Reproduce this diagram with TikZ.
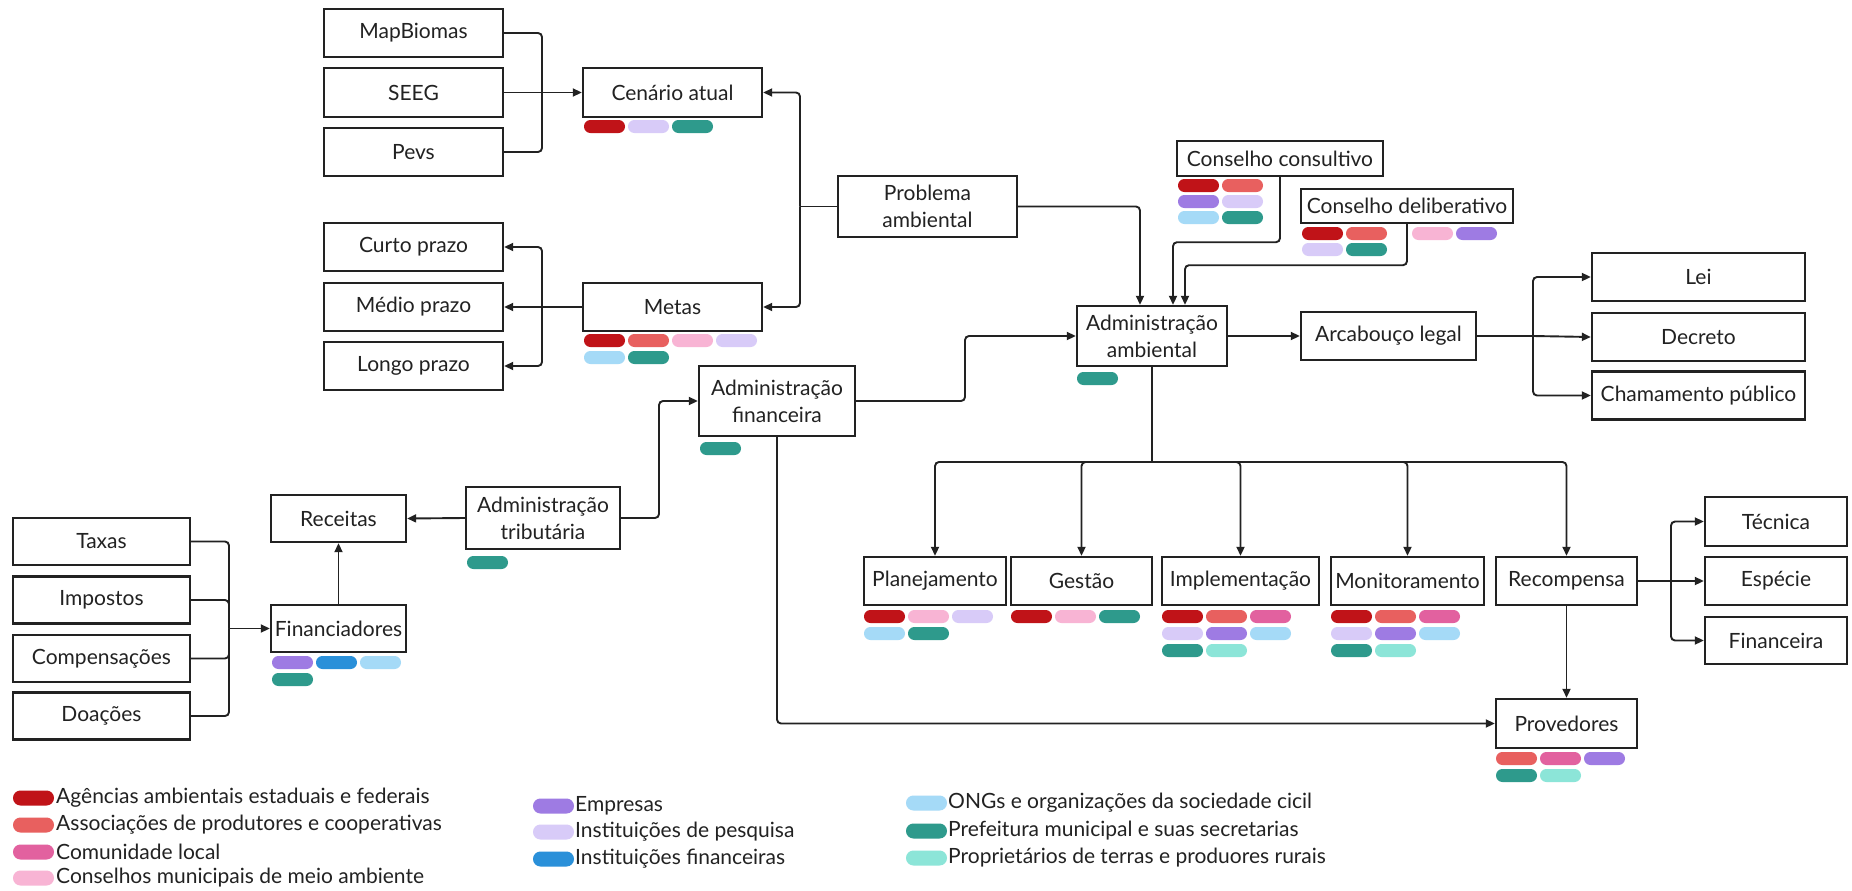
\documentclass[tikz,border=0pt]{standalone}
\usepackage{fontspec}
\setmainfont{Lato}
\usetikzlibrary{arrows.meta,calc}
\definecolor{cRed}{HTML}{C01318}
\definecolor{cSal}{HTML}{E8605F}
\definecolor{cMag}{HTML}{E2619F}
\definecolor{cLpk}{HTML}{F8B4D4}
\definecolor{cPur}{HTML}{9E7BE3}
\definecolor{cLav}{HTML}{D8CBF8}
\definecolor{cBlu}{HTML}{2A90D9}
\definecolor{cLbl}{HTML}{A5DAF7}
\definecolor{cTea}{HTML}{2E9A8C}
\definecolor{cMin}{HTML}{8CE5D8}
\definecolor{cInk}{HTML}{222222}
\newcommand{\pil}[3]{\fill[#3, rounded corners=6.4pt] (#1,#2) rectangle ++(41,13);}
\newcommand{\lpil}[3]{\fill[#3, rounded corners=7.4pt] (#1,#2-7.5) rectangle ++(41,15);}
\begin{document}
\begin{tikzpicture}[x=1pt,y=-1pt,
  box/.style={draw=cInk, line width=2.4pt, rectangle, inner sep=0pt, align=center,
    font=\fontsize{21}{27}\selectfont, text=cInk},
  sz/.style 2 args={minimum width=#1pt, minimum height=#2pt},
  conn/.style={draw=cInk, line width=1.9pt, rounded corners=4pt},
  arr/.style={conn, -{Triangle[length=9pt,width=8pt]}},
  legtext/.style={anchor=west, inner sep=0pt, font=\fontsize{21}{25}\selectfont, text=cInk}]
\useasboundingbox (0,0) rectangle (1852,891);
\fill[white] (0,0) rectangle (1852,891);

% top-left
\node[box, sz={179}{48}] (mapb) at (413.5,33) {MapBiomas};
\node[box, sz={179}{49}] (seeg) at (413.5,92.5) {SEEG};
\node[box, sz={179}{48}] (pevs) at (413.5,152) {Pevs};
\node[box, sz={179}{49}] (cen) at (672.5,92.5) {Cenário atual};
\node[box, sz={179}{48}] (curto) at (413.5,247) {Curto prazo};
\node[box, sz={179}{48}] (medio) at (413.5,307) {Médio prazo};
\node[box, sz={179}{48}] (longo) at (413.5,366) {Longo prazo};
\node[box, sz={179}{48}] (metas) at (672.5,307) {Metas};
\node[box, sz={179}{61}] (prob) at (927.5,206.5) {Problema\\ambiental};

% conselhos / admin ambiental
\node[box, sz={206}{35}] (ccons) at (1280,158.5) {Conselho consultivo};
\node[box, sz={212}{34}] (cdel) at (1407,206) {Conselho deliberativo};
\node[box, sz={150}{60}] (aamb) at (1152,336) {Administração\\ambiental};
\node[box, sz={175}{48}] (arc) at (1388.5,336) {Arcabouço legal};
\node[box, sz={213}{48}] (lei) at (1698.5,277) {Lei};
\node[box, sz={213}{48}] (dec) at (1698.5,337) {Decreto};
\node[box, sz={213}{48}] (cham) at (1698.5,395.5) {Chamamento público};

% finance
\node[box, sz={156}{70}] (afin) at (777,401) {Administração\\financeira};
\node[box, sz={154}{62}] (atrib) at (543,518) {Administração\\tributária};
\node[box, sz={135}{47}] (rec) at (338.5,518.5) {Receitas};
\node[box, sz={135}{47}] (finan) at (338.5,628.5) {Financiadores};
\node[box, sz={177}{47}] (taxas) at (101.5,541.5) {Taxas};
\node[box, sz={177}{47}] (imp) at (101.5,600) {Impostos};
\node[box, sz={177}{47}] (comp) at (101.5,658.5) {Compensações};
\node[box, sz={177}{47}] (doa) at (101.5,716) {Doações};

% bottom row
\node[box, sz={142}{48}] (plan) at (935,581) {Planejamento};
\node[box, sz={141}{48}] (gest) at (1081.5,581) {Gestão};
\node[box, sz={157}{48}] (impl) at (1240.5,581) {Implementação};
\node[box, sz={153}{48}] (mon) at (1407.5,581) {Monitoramento};
\node[box, sz={141}{48}] (recp) at (1566.5,581) {Recompensa};
\node[box, sz={142}{49}] (tec) at (1776,521.5) {Técnica};
\node[box, sz={142}{48}] (esp) at (1776,581) {Espécie};
\node[box, sz={142}{47}] (fin) at (1776,640.5) {Financeira};
\node[box, sz={141}{49}] (prov) at (1566.5,723.5) {Provedores};

% connectors
\coordinate (j1) at (542,92.5);
\draw[conn] (mapb.east) -| (j1);
\draw[conn] (pevs.east) -| (j1);
\draw[arr] (seeg.east) -- (cen.west);

\coordinate (jp) at (800,206.5);
\draw[conn] (prob.west) -- (jp);
\draw[arr] (jp) |- (cen.east);
\draw[arr] (jp) |- (metas.east);

\coordinate (jm) at (542,307);
\draw[conn] (metas.west) -- (jm);
\draw[arr] (jm) |- (curto.east);
\draw[arr] (jm) -- (medio.east);
\draw[arr] (jm) |- (longo.east);

\draw[arr] (prob.east) -| ($(aamb.north)+(-12,0)$);
\draw[arr] (ccons.south) -- ++(0,65) -| ($(aamb.north)+(21,0)$);
\draw[arr] (cdel.south) -- ++(0,41) -| ($(aamb.north)+(33,0)$);

\draw[arr] (aamb.east) -- (arc.west);
\coordinate (ja) at (1533,336);
\draw[conn] (arc.east) -- (ja);
\draw[arr] (ja) |- (lei.west);
\draw[arr] (ja) -- (dec.west);
\draw[arr] (ja) |- (cham.west);

\coordinate (jd) at (1152,462);
\draw[conn] (aamb.south) -- (jd);
\draw[arr] (jd) -| (plan.north);
\draw[arr] (jd) -| (gest.north);
\draw[arr] (jd) -| (impl.north);
\draw[arr] (jd) -| (mon.north);
\draw[arr] (jd) -| (recp.north);

\coordinate (jr) at (1671,581);
\draw[conn] (recp.east) -- (jr);
\draw[arr] (jr) |- (tec.west);
\draw[arr] (jr) -- (esp.west);
\draw[arr] (jr) |- (fin.west);
\draw[arr] (recp.south) -- (prov.north);

\draw[arr] (afin.south) |- (prov.west);
\coordinate (jaf) at (965,401);
\draw[arr] (afin.east) -- (jaf) |- (aamb.west);
\coordinate (jat) at (659,518);
\draw[arr] (atrib.east) -- (jat) |- (afin.west);
\draw[arr] (atrib.west) -- (rec.east);
\draw[arr] (finan.north) -- (rec.south);

\coordinate (jf) at (229,628.5);
\draw[conn] (taxas.east) -| (jf);
\draw[conn] (imp.east) -| (jf);
\draw[conn] (comp.east) -| (jf);
\draw[conn] (doa.east) -| (jf);
\draw[arr] (jf) -- (finan.west);

% pills
\pil{584}{120}{cRed}\pil{628}{120}{cLav}\pil{672}{120}{cTea}
\pil{584}{334}{cRed}\pil{628}{334}{cSal}\pil{672}{334}{cLpk}\pil{716}{334}{cLav}
\pil{584}{351}{cLbl}\pil{628}{351}{cTea}
\pil{1178}{179}{cRed}\pil{1222}{179}{cSal}
\pil{1178}{195}{cPur}\pil{1222}{195}{cLav}
\pil{1178}{211}{cLbl}\pil{1222}{211}{cTea}
\pil{1302}{227}{cRed}\pil{1346}{227}{cSal}\pil{1412}{227}{cLpk}\pil{1456}{227}{cPur}
\pil{1302}{243}{cLav}\pil{1346}{243}{cTea}
\pil{1077}{372}{cTea}
\pil{700}{442}{cTea}
\pil{467}{556}{cTea}
\pil{272}{656}{cPur}\pil{316}{656}{cBlu}\pil{360}{656}{cLbl}
\pil{272}{673}{cTea}
\pil{864}{610}{cRed}\pil{908}{610}{cLpk}\pil{952}{610}{cLav}
\pil{864}{627}{cLbl}\pil{908}{627}{cTea}
\pil{1011}{610}{cRed}\pil{1055}{610}{cLpk}\pil{1099}{610}{cTea}
\pil{1162}{610}{cRed}\pil{1206}{610}{cSal}\pil{1250}{610}{cMag}
\pil{1162}{627}{cLav}\pil{1206}{627}{cPur}\pil{1250}{627}{cLbl}
\pil{1162}{644}{cTea}\pil{1206}{644}{cMin}
\pil{1331}{610}{cRed}\pil{1375}{610}{cSal}\pil{1419}{610}{cMag}
\pil{1331}{627}{cLav}\pil{1375}{627}{cPur}\pil{1419}{627}{cLbl}
\pil{1331}{644}{cTea}\pil{1375}{644}{cMin}
\pil{1496}{752}{cSal}\pil{1540}{752}{cMag}\pil{1584}{752}{cPur}
\pil{1496}{769}{cTea}\pil{1540}{769}{cMin}

% legend
\lpil{13}{798}{cRed}\node[legtext] (lg1) at (56,798) {Agências ambientais estaduais e federais};
\lpil{13}{825}{cSal}\node[legtext] (lg2) at (56,825) {Associações de produtores e cooperativas};
\lpil{13}{852}{cMag}\node[legtext] (lg3) at (56,852) {Comunidade local};
\lpil{13}{878}{cLpk}\node[legtext] (lg4) at (56,878) {Conselhos municipais de meio ambiente};
\lpil{533}{806}{cPur}\node[legtext] (lg5) at (575,806) {Empresas};
\lpil{533}{832}{cLav}\node[legtext] (lg6) at (575,832) {Instituições de pesquisa};
\lpil{533}{859}{cBlu}\node[legtext] (lg7) at (575,859) {Instituições financeiras};
\lpil{906}{803}{cLbl}\node[legtext] (lg8) at (948,803) {ONGs e organizações da sociedade cicil};
\lpil{906}{831}{cTea}\node[legtext] (lg9) at (948,831) {Prefeitura municipal e suas secretarias};
\lpil{906}{858}{cMin}\node[legtext] (lg10) at (948,858) {Proprietários de terras e produores rurais};
\end{tikzpicture}
\end{document}
